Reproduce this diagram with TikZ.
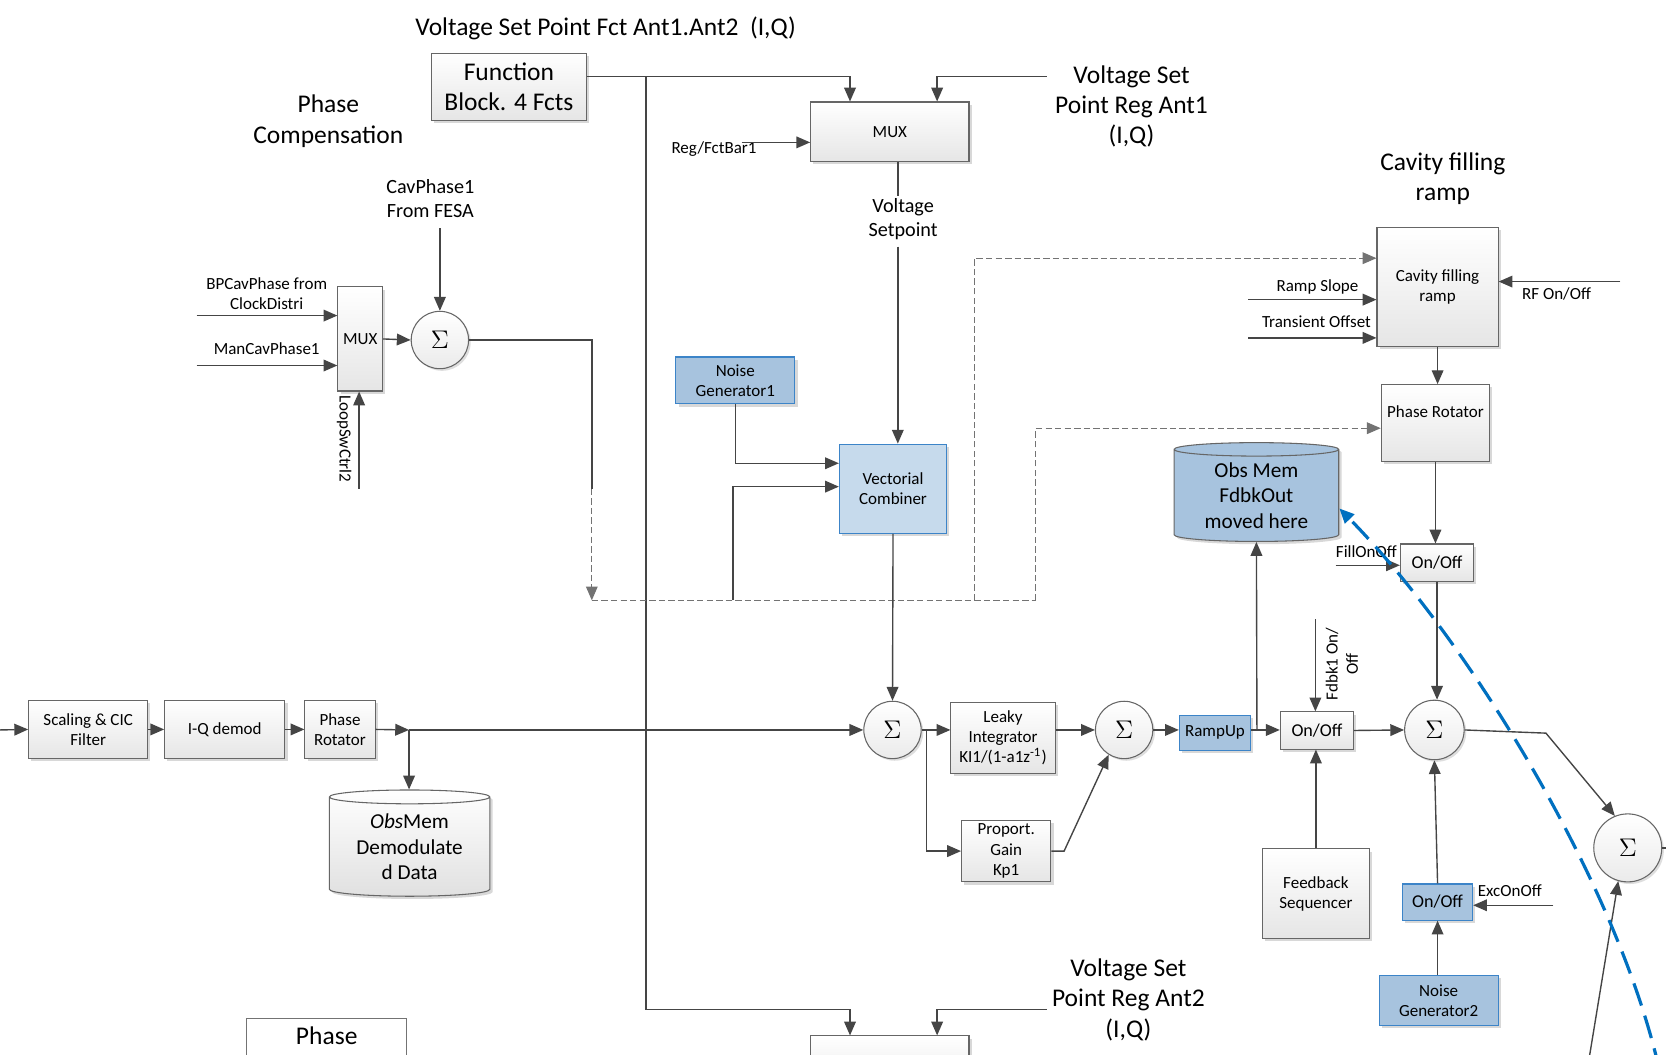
\documentclass[tikz,border=0pt]{standalone}
\usepackage{fontspec}
\setmainfont{Carlito}
\usetikzlibrary{arrows.meta,shapes.geometric,shadows}
\definecolor{lineGray}{HTML}{454545}
\definecolor{blueFill}{HTML}{A7C3DE}
\definecolor{blueEdge}{HTML}{3C84C8}
\definecolor{vcFill}{HTML}{C6DAEC}
\definecolor{dashBlue}{HTML}{0070C0}
\newcommand{\smallTxt}{\fontsize{8}{9.5}\selectfont}
\newcommand{\midTxt}{\fontsize{9.5}{11.5}\selectfont}
\newcommand{\bigTxt}{\fontsize{12}{14.2}\selectfont}
\newcommand{\memTxt}{\fontsize{10}{12}\selectfont}
\newcommand{\onTxt}{\fontsize{8.5}{10}\selectfont}
\begin{document}
\begin{tikzpicture}[x=0.5pt,y=-0.5pt,
  wire/.style={draw=lineGray, line width=0.65pt},
  arr/.style={wire, -{Triangle[length=6.5pt,width=5.5pt]}},
  dashwire/.style={draw=black!55, line width=0.5pt, dash pattern=on 3pt off 1.5pt},
  dasharr/.style={dashwire, -{Triangle[length=6.5pt,width=5.5pt]}},
  blueDash/.style={draw=dashBlue, line width=1.5pt, dash pattern=on 11pt off 5pt, -{Triangle[length=7pt,width=6pt]}},
  lbl/.style={align=center, inner sep=0pt, font=\smallTxt},
  blk/.style={draw=black!60, line width=0.5pt, top color=white, bottom color=black!10, align=center, inner sep=1pt, font=\smallTxt,
    drop shadow={shadow xshift=1.3pt, shadow yshift=-1.3pt, fill=black!30}},
  blueblk/.style={blk, top color=blueFill, bottom color=blueFill, draw=blueEdge},
  vcblk/.style={blk, top color=vcFill, bottom color=vcFill, draw=blueEdge},
  sumnode/.style={circle, draw=black!60, line width=0.5pt, top color=white, bottom color=black!8, minimum size=27pt, inner sep=0pt,
    font=\fontsize{12}{12}\selectfont, drop shadow={shadow xshift=1pt, shadow yshift=-1pt, fill=black!25}},
  store/.style={cylinder, shape border rotate=90, aspect=0.13, draw=black!60, line width=0.5pt,
    top color=white, bottom color=black!12, align=center, inner sep=0pt, font=\memTxt,
    drop shadow={shadow xshift=1.3pt, shadow yshift=-1.3pt, fill=black!30}}]
\useasboundingbox[fill=white] (0,0) rectangle (1568,992);

\node[lbl, font=\bigTxt] (fctTitle) at (570,27) {Voltage Set Point Fct Ant1.Ant2\ \ (I,Q)};
\node[blk, font=\bigTxt, minimum width=73pt, minimum height=31.5pt] (fnBlock) at (479,81.5) {Function\\Block. 4 Fcts};
\node[lbl, font=\bigTxt] (phCompTitle) at (309,114) {Phase\\Compensation};
\node[blk, minimum width=74.5pt, minimum height=28pt] (muxA) at (837.5,124) {MUX};
\node[lbl, font=\bigTxt] (ant1Lbl) at (1065,100) {Voltage Set\\Point Reg Ant1\\(I,Q)};
\node[lbl] (regLbl) at (672,140) {Reg/FctBar1};
\node[lbl, font=\midTxt] (vsetLbl) at (850,206) {Voltage\\Setpoint};

\node[lbl, font=\midTxt] (cavLbl) at (405,187) {CavPhase1\\From FESA};
\node[blk, minimum width=21pt, minimum height=49pt] (muxPh) at (339,319) {MUX};
\node[sumnode] (sumPh) at (414,320) {$\Sigma$};
\node[lbl] (bpLbl) at (251,276) {BPCavPhase from\\ClockDistri};
\node[lbl] (manLbl) at (251,328) {ManCavPhase1};
\node[lbl, rotate=-90] (loopLbl) at (324,413) {LoopSwCtrl2};

\node[blueblk, minimum width=56pt, minimum height=22pt] (noiseA) at (692,358) {Noise\\Generator1};
\node[vcblk, minimum width=50.5pt, minimum height=42pt] (vecComb) at (840.5,460) {Vectorial\\Combiner};

\node[blk, minimum width=56pt, minimum height=27.5pt] (scaleCic) at (83,686.5) {Scaling \& CIC\\Filter};
\node[blk, minimum width=56.5pt, minimum height=27.5pt] (iqDemod) at (211.5,686.5) {I-Q demod};
\node[blk, minimum width=33pt, minimum height=27.5pt] (phRotA) at (320,686.5) {Phase\\Rotator};
\node[store, minimum width=75.5pt, minimum height=50pt] (obsMemA) at (385.5,797) {\textit{Obs}Mem\\Demodulate\\d Data};

\node[sumnode] (sumA) at (840,687) {$\Sigma$};
\node[blk, minimum width=49pt, minimum height=33.5pt] (leaky) at (944,694.5) {Leaky\\Integrator\\KI1/(1-a1z\textsuperscript{-1})};
\node[blk, minimum width=42pt, minimum height=29pt, inner ysep=0.5pt] (propGain) at (947,801) {Proport.\\Gain\\Kp1};
\node[sumnode] (sumB) at (1058,687) {$\Sigma$};
\node[blueblk, minimum width=33.5pt, minimum height=16.5pt] (rampUp) at (1143.5,689.5) {RampUp};
\node[blk, minimum width=34.5pt, minimum height=17.5pt, font=\onTxt] (onOffFb) at (1239.5,687.5) {On/Off};
\node[blk, minimum width=50.5pt, minimum height=42pt] (fbSeq) at (1238.5,841) {Feedback\\Sequencer};
\node[sumnode, minimum size=28pt] (sumC) at (1350,687) {$\Sigma$};
\node[sumnode, minimum size=32pt] (sumD) at (1532,798) {$\Sigma$};
\node[lbl, rotate=90] (fdbkLbl) at (1263,625) {Fdbk1 On/\\Off};

\node[lbl, font=\bigTxt] (cfrTitle) at (1358,168) {Cavity filling\\ramp};
\node[blk, minimum width=57pt, minimum height=56pt] (cfr) at (1353,270) {Cavity filling\\ramp};
\node[blk, minimum width=51pt, minimum height=36pt, text depth=11pt] (phRotB) at (1351,398) {Phase Rotator};
\node[blk, minimum width=34.5pt, minimum height=17.5pt, font=\onTxt] (onOffFill) at (1352.5,529.5) {On/Off};
\node[store, top color=blueFill, bottom color=blueFill, minimum width=77.5pt, minimum height=46.5pt] (obsMemB) at (1182.5,466.5) {Obs Mem\\FdbkOut\\moved here};
\node[lbl] (rampLbl) at (1240,270) {Ramp Slope};
\node[lbl] (transLbl) at (1239,303) {Transient Offset};
\node[lbl] (rfLbl) at (1465,277) {RF On/Off};
\node[lbl] (fillLbl) at (1286,519) {FillOnOff};

\node[blueblk, minimum width=33pt, minimum height=17pt, font=\onTxt] (onOffExc) at (1353,849) {On/Off};
\node[blueblk, minimum width=56pt, minimum height=23.5pt] (noiseB) at (1354,941.5) {Noise\\Generator2};
\node[lbl] (excLbl) at (1421,838) {ExcOnOff};

\node[lbl, font=\bigTxt] (ant2Lbl) at (1062,941) {Voltage Set\\Point Reg Ant2\\(I,Q)};
\node[blk, minimum width=74.5pt, minimum height=28pt] (muxB) at (837.5,1003) {};
\node[draw=black!55, fill=white, line width=0.5pt, anchor=north, minimum width=75.5pt, inner ysep=4pt, text depth=30pt, font=\bigTxt] (phaseB) at (307.5,958) {Phase};

\coordinate (fnTap) at (608,72);
\coordinate (fnLow) at (608,950);
\coordinate (ant1In) at (985,72);
\coordinate (ant2In) at (985,950);
\coordinate (regIn) at (698,134);
\coordinate (vsetTop) at (845,184);
\coordinate (vsetBot) at (845,232);
\coordinate (bpIn) at (185,297);
\coordinate (manIn) at (185,344);
\coordinate (loopIn) at (338,460);
\coordinate (cavIn) at (414,215);
\coordinate (phDash) at (557,460);
\coordinate (phFork) at (557,565);
\coordinate (vcTap) at (690,565);
\coordinate (kneeA) at (917,565);
\coordinate (kneeB) at (975,565);
\coordinate (sigIn) at (0,687);
\coordinate (obsTap) at (385,687);
\coordinate (ampTap) at (872,687);
\coordinate (fbTap) at (1183,687);
\coordinate (fdbkIn) at (1238,583);
\coordinate (sumKink) at (1455,690);
\coordinate (sumDIn) at (1495,1000);
\coordinate (sumDOut) at (1568,798);
\coordinate (rampIn) at (1175,282);
\coordinate (transIn) at (1175,318);
\coordinate (rfIn) at (1525,265);
\coordinate (fillIn) at (1257,532);
\coordinate (excIn) at (1462,852);
\coordinate (blueIn) at (1562,1008);

\draw[arr] ([yshift=4.75pt]fnBlock.east) -| ([xshift=-18.75pt]muxA.north);
\draw[arr] (fnTap) -- (fnLow) -| ([xshift=-18.75pt]muxB.north);
\draw[arr] (ant1In) -| ([xshift=22.25pt]muxA.north);
\draw[arr] (ant2In) -| ([xshift=22.25pt]muxB.north);
\draw[arr] (regIn) -- (regIn -| muxA.west);
\draw[wire] (muxA.south -| vsetTop) -- (vsetTop);
\draw[arr] (vsetBot) -- (vsetBot |- vecComb.north);

\draw[arr] (bpIn) -- (bpIn -| muxPh.west);
\draw[arr] (manIn) -- (manIn -| muxPh.west);
\draw[arr] (loopIn) -- (loopIn |- muxPh.south);
\draw[arr] (muxPh.east) -- (sumPh.west);
\draw[arr] (cavIn) -- (sumPh.north);
\draw[wire] (sumPh.east) -| (phDash);
\draw[dasharr] (phDash) -- (phFork);
\draw[dashwire] (phFork) -- (kneeB);
\draw[dasharr] (kneeA) |- ([yshift=13.5pt]cfr.west);
\draw[dasharr] (kneeB) |- ([yshift=-2.5pt]phRotB.west);

\draw[arr] (noiseA.south) |- ([yshift=12pt]vecComb.west);
\draw[arr] (vcTap) |- ([yshift=1pt]vecComb.west);
\draw[arr] (vecComb.south) -- (sumA.north);

\draw[arr] (sigIn) -- (scaleCic.west);
\draw[arr] (scaleCic.east) -- (iqDemod.west);
\draw[arr] (iqDemod.east) -- (phRotA.west);
\draw[arr] (phRotA.east) -- (obsTap);
\draw[arr] (obsTap) -- (sumA.west);
\draw[arr] (obsTap) -- (obsTap |- obsMemA.north);

\draw[arr] (sumA.east) -- (sumA -| leaky.west);
\draw[arr] (ampTap) |- (propGain.west);
\draw[arr] (sumB -| leaky.east) -- (sumB.west);
\draw[arr] (propGain.east) -- ++(6pt,0) -- (sumB.238);
\draw[arr] (sumB.east) -- (sumB -| rampUp.west);
\draw[arr] (rampUp.east |- fbTap) -- (fbTap -| onOffFb.west);
\draw[arr] (fbTap) -- (obsMemB.south);
\draw[arr] (fdbkIn) -- (fdbkIn |- onOffFb.north);
\draw[arr] (fbSeq.north) -- (fbSeq.north |- onOffFb.south);
\draw[arr] (onOffFb.east) -- (sumC.west);
\draw[arr] (sumC.east) -- (sumKink) -- (sumD.112);
\draw[arr] (sumDIn) -- (sumD.254);
\draw[wire] (sumD.east) -- (sumDOut);

\draw[arr] (rampIn) -- (rampIn -| cfr.west);
\draw[arr] (transIn) -- (transIn -| cfr.west);
\draw[arr] (rfIn) -- (rfIn -| cfr.east);
\draw[arr] (cfr.south) -- (cfr.south |- phRotB.north);
\draw[arr] (phRotB.south) -- (phRotB.south |- onOffFill.north);
\draw[arr] (fillIn) -- (fillIn -| onOffFill.west);
\draw[arr] (onOffFill.south) -- (onOffFill.south |- sumC.north);

\draw[arr] (excIn) -- (excIn -| onOffExc.east);
\draw[arr] (noiseB.north -| onOffExc) -- (onOffExc.south);
\draw[arr] (onOffExc.north) -- (sumC.south);

\draw[blueDash] (blueIn) .. controls (1522,830) and (1380,600) .. ([yshift=-6pt]obsMemB.east);
\end{tikzpicture}
\end{document}
